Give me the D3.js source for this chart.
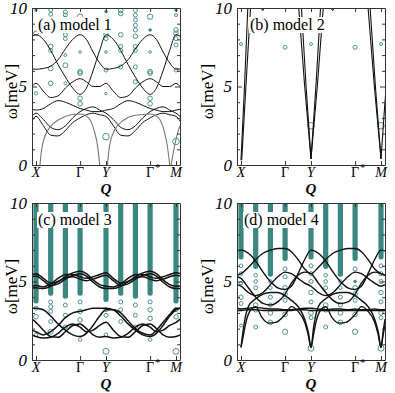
<!DOCTYPE html>
<html>
<head>
<meta charset="utf-8">
<script src="https://cdn.jsdelivr.net/npm/d3@7"></script>
<style>
  body { margin: 0; background: #fff; }
</style>
</head>
<body>
<div id="chart"></div>
<script>
// Q path positions: X -> Gamma -> Y -> Gamma* -> M
var qTicks = [0, 0.63, 1, 1.63, 2]
var qTickLabels = ['X', 'Γ', 'Y', 'Γ', 'M']
var qTickItalic = [true, false, true, false, true]
var qTickStar = [false, false, false, true, false]
var wTicks = [0, 1, 2, 3, 4, 5, 6, 7, 8, 9, 10]

// common Q grid for the dispersion branches
var qGrid = [-0.057, 0, 0.105, 0.21, 0.315, 0.42, 0.525, 0.63, 0.72, 0.815, 0.91, 1, 1.105, 1.21, 1.315, 1.42, 1.525, 1.63, 1.72, 1.815, 1.91, 2, 2.057]

// (a) model 1
var aBands = [
  [6.12, 6.1, 6.15, 6.3, 6.7, 7.4, 8.0, 8.3, 8.0, 7.2, 6.5, 6.1, 6.15, 6.3, 6.7, 7.4, 8.0, 8.3, 8.0, 7.2, 6.5, 6.1, 6.12],
  [8.2, 8.3, 8.0, 7.3, 6.4, 5.6, 4.9, 4.5, 4.9, 6.0, 7.3, 8.3, 8.0, 7.3, 6.4, 5.6, 4.9, 4.5, 4.9, 6.0, 7.3, 8.3, 8.2],
  [5.0, 5.2, 4.7, 4.3, 4.4, 4.9, 5.3, 5.5, 5.3, 5.0, 5.0, 5.2, 4.7, 4.3, 4.4, 4.9, 5.3, 5.5, 5.3, 5.0, 5.0, 5.2, 5.0],
  [3.55, 3.5, 3.6, 3.9, 4.1, 4.0, 3.8, 3.6, 3.5, 3.4, 3.4, 3.5, 3.6, 3.9, 4.1, 4.0, 3.8, 3.6, 3.5, 3.4, 3.4, 3.5, 3.55],
  [2.8, 3.1, 2.5, 1.9, 1.85, 2.2, 2.7, 3.0, 3.2, 3.3, 3.2, 3.1, 2.5, 1.9, 1.85, 2.2, 2.7, 3.0, 3.2, 3.3, 3.2, 3.1, 2.8],
  [3.1, 3.3, 2.9, 2.4, 2.25, 2.5, 3.0, 3.4, 3.6, 3.7, 3.5, 3.3, 2.9, 2.4, 2.25, 2.5, 3.0, 3.4, 3.6, 3.7, 3.5, 3.3, 3.1]
]
// gapless branches of (a), [q, w] pairs
var aArches = [
  [[0.057, 0], [0.075, 0.8], [0.11, 1.6], [0.2, 2.4], [0.35, 2.95], [0.5, 3.2], [0.63, 3.25], [0.75, 3.0], [0.83, 2.2], [0.88, 1.2], [0.91, 0]],
  [[1.02, 0], [1.05, 1.2], [1.12, 2.2], [1.25, 2.85], [1.4, 3.15], [1.63, 3.25], [1.75, 3.0], [1.84, 2.0], [1.88, 1.1], [1.91, 0]],
  [[1.93, 0], [1.97, 1.0], [2.02, 2.0], [2.057, 2.5]]
]
// [q, w, radius, filled]
var aCircles = [
  [0, 9.87, 1.2, 1], [0, 8.39, 2.3, 0], [0, 4.56, 1.6, 0],
  [0.21, 9.87, 2, 0], [0.21, 9.6, 2, 0], [0.21, 7.55, 2.3, 0], [0.21, 7.3, 2, 0], [0.21, 6.15, 2.3, 0], [0.21, 5.2, 2.3, 0],
  [0.42, 9.75, 2, 0], [0.42, 9.55, 2, 0], [0.42, 9.35, 2, 0], [0.42, 8.3, 2, 0], [0.42, 8.05, 2, 0], [0.42, 7.0, 1.5, 0], [0.42, 6.35, 2.5, 0], [0.42, 5.2, 1.5, 0],
  [0.63, 9.45, 2.7, 0], [0.63, 7.2, 1.3, 0], [0.63, 5.95, 2.3, 0], [0.63, 5.85, 2.3, 0], [0.63, 4.25, 2.3, 0], [0.63, 3.9, 2.3, 0],
  [1, 9.77, 1.3, 1], [1, 8.6, 2.3, 0], [1, 8.3, 2.3, 0], [1, 8.05, 2, 0], [1, 7.2, 1.3, 0], [1, 6.05, 2, 0], [1, 4.55, 1.3, 0], [1, 1.8, 3.3, 0],
  [1.21, 9.85, 2.3, 0], [1.21, 9.65, 2.3, 0], [1.21, 8.3, 2.3, 0], [1.21, 7.55, 2, 0], [1.21, 7.3, 2, 0], [1.21, 6.25, 2, 0],
  [1.42, 9.85, 2, 0], [1.42, 9.55, 2, 0], [1.42, 9.25, 2, 0], [1.42, 8.9, 2, 0], [1.42, 8.6, 2, 0], [1.42, 8.2, 2.3, 0], [1.42, 7.55, 2, 0], [1.42, 7.3, 2, 0], [1.42, 6.25, 2, 0], [1.42, 5.3, 2, 0],
  [1.63, 9.45, 2.7, 0], [1.63, 8.6, 1.3, 1], [1.63, 7.2, 1.3, 0], [1.63, 5.95, 2.3, 0], [1.63, 5.85, 2.3, 0], [1.63, 4.25, 2.3, 0], [1.63, 3.9, 2.3, 0],
  [2, 9.87, 1.3, 1], [2, 9.55, 1.5, 0], [2, 8.6, 2.3, 0], [2, 8.4, 2.3, 0], [2, 8.05, 2, 0], [2, 7.65, 2, 0], [2, 6.05, 2, 0], [2, 1.5, 3.3, 0]
]

// (b) model 2
var bBranches = [
  [[0.0, 0.3], [0.05, 5], [0.1, 10.3]],
  [[0.01, 0.3], [0.07, 5], [0.14, 10.3]],
  [[0.82, 10.3], [0.91, 5], [1.0, 0.4]],
  [[0.86, 10.3], [0.93, 5], [1.0, 0.4]],
  [[1.0, 0.4], [1.07, 5], [1.14, 10.3]],
  [[1.0, 0.4], [1.09, 5], [1.18, 10.3]],
  [[1.81, 10.3], [1.905, 5], [2.0, 0.4]],
  [[1.84, 10.3], [1.92, 5], [2.0, 0.4]],
  [[2.0, 0.4], [2.05, 3.6], [2.1, 6.5]],
  [[0.27, 10.3], [0.31, 9.85], [0.35, 10.3]],
  [[1.27, 10.3], [1.31, 9.85], [1.35, 10.3]]
]
var bCircles = [
  [0, 7.7, 1.5, 0], [0.63, 7.5, 2, 0], [1, 7.7, 1.5, 0], [1.63, 7.5, 2, 0], [2, 7.7, 1.5, 0],
  [1, 2.5, 3.3, 0], [2, 2.5, 3.3, 0]
]

// (c) model 3
var cBands = [
  [5.45, 5.5, 5.2, 4.9, 5.0, 5.3, 5.55, 5.65, 5.5, 5.1, 4.8, 4.7, 4.65, 4.85, 5.2, 5.45, 5.45, 5.3, 5.2, 5.3, 5.45, 5.55, 5.5],
  [5.3, 5.35, 5.05, 4.75, 4.85, 5.15, 5.4, 5.5, 5.35, 4.95, 4.65, 4.55, 4.55, 4.7, 5.0, 5.25, 5.3, 5.15, 5.05, 5.15, 5.3, 5.4, 5.35],
  [4.7, 4.75, 4.65, 4.85, 5.2, 5.45, 5.45, 5.3, 5.2, 5.3, 5.45, 5.55, 5.2, 4.9, 5.0, 5.3, 5.55, 5.65, 5.5, 5.1, 4.8, 4.7, 4.72],
  [4.58, 4.6, 4.55, 4.7, 5.0, 5.25, 5.3, 5.15, 5.05, 5.15, 5.3, 5.4, 5.05, 4.75, 4.85, 5.15, 5.4, 5.5, 5.35, 4.95, 4.65, 4.55, 4.56],
  [2.6, 2.4, 1.9, 1.5, 1.45, 1.8, 2.2, 2.3, 2.0, 1.6, 1.45, 1.5, 1.4, 1.45, 1.7, 2.1, 2.3, 2.1, 1.8, 1.9, 2.2, 2.4, 2.6],
  [1.6, 1.5, 1.4, 1.45, 1.7, 2.1, 2.3, 2.1, 1.8, 1.9, 2.2, 2.4, 1.9, 1.5, 1.45, 1.8, 2.2, 2.3, 2.0, 1.6, 1.45, 1.5, 1.6],
  [1.9, 1.8, 1.6, 1.8, 2.2, 2.7, 3.0, 3.1, 3.2, 3.3, 3.3, 3.3, 3.2, 2.8, 2.3, 1.9, 1.6, 1.5, 1.7, 2.2, 2.8, 3.2, 3.3],
  [3.3, 3.3, 3.2, 2.8, 2.3, 1.9, 1.6, 1.5, 1.7, 2.2, 2.8, 3.2, 3.2, 3.0, 2.5, 2.0, 1.7, 1.6, 1.9, 2.4, 2.9, 3.3, 3.3]
]
// dense columns of intensity circles: [q, lowest w, highest w]
var cColumns = [[0, 3.6, 10], [0.21, 4.1, 10], [0.42, 3.9, 10], [0.63, 4.1, 10], [1, 3.7, 10], [1.21, 4.1, 10], [1.42, 3.9, 10], [1.63, 4.1, 10], [2, 3.6, 10]]
var cCircles = [
  [0, 3.3, 2, 0], [0, 2.75, 2.3, 0], [0, 1.6, 1.8, 0],
  [0.21, 3.7, 2, 0], [0.21, 3.4, 2, 0], [0.21, 3.1, 2, 0], [0.21, 2.45, 2, 0], [0.21, 1.8, 2.5, 0],
  [0.42, 3.5, 2, 0], [0.42, 2.85, 2, 0], [0.42, 2.1, 2, 0],
  [0.63, 3.7, 2, 0], [0.63, 3.1, 2.3, 0], [0.63, 2.55, 2.3, 0], [0.63, 1.3, 1.8, 0],
  [1, 3.2, 2, 0], [1, 2.85, 2, 0], [1, 1.6, 1.8, 0], [1, 0.55, 3, 0],
  [1.21, 3.7, 2, 0], [1.21, 3.2, 2, 0], [1.21, 2.45, 2, 0],
  [1.42, 3.5, 2, 0], [1.42, 2.85, 2, 0], [1.42, 2.1, 2, 0],
  [1.63, 3.7, 2, 0], [1.63, 3.2, 2.3, 0], [1.63, 2.65, 2.3, 0], [1.63, 1.3, 1.8, 0],
  [2, 3.2, 2, 0], [2, 2.75, 2.3, 0], [2, 0.55, 3, 0]
]

// (d) model 4
var dBands = [
  [5.4, 5.5, 5.9, 6.4, 6.8, 7.0, 7.1, 7.1, 6.9, 6.4, 5.8, 5.5, 5.9, 6.4, 6.8, 7.0, 7.1, 7.1, 6.9, 6.4, 5.8, 5.5, 5.4],
  [6.95, 7.0, 6.8, 6.3, 5.6, 5.0, 4.6, 4.5, 4.7, 5.5, 6.4, 7.0, 6.8, 6.3, 5.6, 5.0, 4.6, 4.5, 4.7, 5.5, 6.4, 7.0, 6.95],
  [5.3, 5.2, 4.6, 4.0, 3.6, 3.5, 3.7, 4.2, 4.9, 5.4, 5.6, 5.5, 4.9, 4.3, 3.8, 3.6, 3.7, 4.2, 4.9, 5.4, 5.6, 5.5, 5.4],
  [4.8, 4.7, 4.3, 4.1, 4.3, 4.8, 5.3, 5.6, 5.5, 5.2, 4.9, 4.7, 4.3, 4.1, 4.3, 4.8, 5.3, 5.6, 5.5, 5.2, 4.9, 4.7, 4.8],
  [3.3, 3.25, 3.3, 3.35, 3.3, 3.25, 3.25, 3.2, 3.2, 3.25, 3.3, 3.3, 3.25, 3.2, 3.25, 3.25, 3.2, 3.25, 3.2, 3.2, 3.25, 3.2, 3.2],
  [3.15, 3.15, 3.2, 3.2, 3.15, 3.15, 3.15, 3.15, 3.15, 3.2, 3.2, 3.15, 3.15, 3.15, 3.15, 3.15, 3.15, 3.15, 3.15, 3.15, 3.15, 3.15, 3.15]
]
// soft branches of (d) with sharp minima at X, Y, M: [q, w] pairs
var dAcoustic = [
  [[0, 0.8], [0.035, 2.0], [0.07, 2.9], [0.105, 3.4], [0.21, 3.9], [0.315, 4.2], [0.42, 4.3], [0.525, 4.3], [0.63, 4.1], [0.72, 3.8], [0.815, 3.4], [0.91, 2.6], [0.965, 1.7], [1, 0.8],
   [1.035, 2.0], [1.07, 2.9], [1.105, 3.4], [1.21, 3.9], [1.315, 4.2], [1.42, 4.3], [1.525, 4.3], [1.63, 4.1], [1.72, 3.8], [1.815, 3.4], [1.91, 2.6], [1.965, 1.7], [2, 0.8], [2.03, 1.8], [2.057, 2.6]],
  [[0, 0.8], [0.035, 1.6], [0.07, 2.4], [0.14, 3.2], [0.21, 3.4], [0.3, 2.7], [0.4, 2.35], [0.5, 2.4], [0.63, 2.9], [0.72, 3.4], [0.815, 3.1], [0.91, 2.4], [0.96, 1.6], [1, 0.8],
   [1.035, 1.6], [1.07, 2.4], [1.14, 3.2], [1.21, 3.4], [1.3, 2.7], [1.4, 2.35], [1.5, 2.4], [1.63, 2.9], [1.72, 3.4], [1.815, 3.1], [1.91, 2.4], [1.96, 1.6], [2, 0.8], [2.03, 1.6], [2.057, 2.2]]
]
var dColumns = [[0, 6.4, 10], [0.21, 5.8, 10], [0.42, 5.3, 10], [0.63, 6.3, 10], [1, 6.4, 10], [1.21, 5.8, 10], [1.42, 5.3, 10], [1.63, 6.3, 10], [2, 6.4, 10]]
var dCircles = [
  [0, 6.0, 1.8, 0], [0, 5.5, 1.8, 0], [0, 4.9, 1.8, 0], [0, 4.0, 2.2, 0], [0, 3.6, 2, 0], [0, 2.2, 1.5, 0],
  [0.21, 5.4, 1.8, 0], [0.21, 5.0, 1.8, 0], [0.21, 4.6, 2, 0], [0.21, 3.5, 2.3, 0], [0.21, 3.2, 2.3, 0], [0.21, 2.1, 2, 0],
  [0.42, 5.0, 1.8, 0], [0.42, 4.6, 1.8, 0], [0.42, 4.0, 2, 0], [0.42, 3.5, 2, 0], [0.42, 3.0, 2.3, 0], [0.42, 2.4, 2.3, 0],
  [0.63, 5.8, 2, 0], [0.63, 5.3, 2, 0], [0.63, 4.6, 2.3, 0], [0.63, 4.2, 2.3, 0], [0.63, 3.8, 2, 0], [0.63, 2.9, 2.3, 0], [0.63, 1.8, 2.6, 0],
  [1, 6.0, 2, 0], [1, 5.5, 2, 0], [1, 5.0, 2, 0], [1, 4.3, 2.2, 0], [1, 3.7, 2, 0], [1, 3.0, 2.3, 0], [1, 2.7, 2, 0], [1, 0.75, 3, 0],
  [1.21, 5.4, 1.8, 0], [1.21, 5.0, 1.8, 0], [1.21, 4.6, 2, 0], [1.21, 3.5, 2.3, 0], [1.21, 3.2, 2.3, 0], [1.21, 2.1, 2, 0],
  [1.42, 5.0, 1.8, 0], [1.42, 4.6, 1.8, 0], [1.42, 4.0, 2, 0], [1.42, 3.5, 2, 0], [1.42, 3.0, 2.3, 0], [1.42, 2.4, 2.3, 0],
  [1.63, 5.8, 2, 0], [1.63, 5.0, 1.3, 1], [1.63, 4.6, 2.3, 0], [1.63, 4.2, 2.3, 0], [1.63, 3.8, 2, 0], [1.63, 2.9, 2.3, 0], [1.63, 1.8, 2.6, 0],
  [2, 6.0, 2, 0], [2, 5.5, 2, 0], [2, 5.0, 2, 0], [2, 4.3, 2.2, 0], [2, 3.7, 2, 0], [2, 3.0, 2.3, 0], [2, 2.7, 2, 0], [2, 0.75, 3, 0]
]

var settings = {
  teal: '#3a8782',
  lineColor: '#111',
  archColor: '#777',
  axisColor: '#333',
  font: "'Liberation Serif', 'Times New Roman', serif"
}

var panels = [
  {left: 32, top: 8, label: '(a) model 1', labelDx: 6, ylabDx: 21, bands: aBands, branches: aArches, branchColor: settings.archColor, columns: [], circles: aCircles, width: 1},
  {left: 237, top: 8, label: '(b) model 2', labelDx: 13, ylabDx: 30, bands: [], branches: bBranches, branchColor: settings.lineColor, columns: [], circles: bCircles, width: 1.1},
  {left: 32, top: 203, label: '(c) model 3', labelDx: 6, ylabDx: 21, bands: cBands, branches: [], columns: cColumns, circles: cCircles, width: 1.5},
  {left: 237, top: 203, label: '(d) model 4', labelDx: 7, ylabDx: 30, bands: dBands, branches: dAcoustic, branchColor: settings.lineColor, columns: dColumns, circles: dCircles, width: 1.4}
]

var pw = 148, ph = 157

var svg = d3.select('#chart').append('svg')
  .attr('width', 395)
  .attr('height', 393)
  .attr('font-family', settings.font)

var x = d3.scaleLinear().domain([-0.057, 2.057]).range([0, pw])
var y = d3.scaleLinear().domain([0, 10]).range([ph, 0])

var line = d3.line()
  .x(function(d){ return x(d[0]) })
  .y(function(d){ return y(d[1]) })
  .curve(d3.curveMonotoneX)

panels.forEach(function(p, pi){
  var g = svg.append('g').attr('transform', 'translate(' + p.left + ',' + p.top + ')')

  g.append('clipPath').attr('id', 'clip' + pi)
    .append('rect').attr('width', pw).attr('height', ph)

  var plot = g.append('g').attr('clip-path', 'url(#clip' + pi + ')')

  // dense intensity columns
  plot.selectAll('.col')
    .data(p.columns)
    .enter().append('rect')
      .attr('x', function(d){ return x(d[0]) - 2.6 })
      .attr('y', function(d){ return y(d[2]) - 3 })
      .attr('width', 5.2)
      .attr('height', function(d){ return y(d[1]) - y(d[2]) + 3 })
      .attr('rx', 2.5)
      .attr('fill', settings.teal)

  // intensity circles
  plot.selectAll('.dot')
    .data(p.circles)
    .enter().append('circle')
      .attr('cx', function(d){ return x(d[0]) })
      .attr('cy', function(d){ return y(d[1]) })
      .attr('r', function(d){ return d[2] })
      .attr('fill', function(d){ return d[3] ? settings.teal : 'none' })
      .attr('stroke', settings.teal)
      .attr('stroke-width', 0.9)

  // dispersion branches on the common grid
  plot.selectAll('.band')
    .data(p.bands)
    .enter().append('path')
      .attr('d', function(d){ return line(qGrid.map(function(q, i){ return [q, d[i]] })) })
      .attr('fill', 'none')
      .attr('stroke', settings.lineColor)
      .attr('stroke-width', p.width)

  plot.selectAll('.branch')
    .data(p.branches)
    .enter().append('path')
      .attr('d', line)
      .attr('fill', 'none')
      .attr('stroke', p.branchColor)
      .attr('stroke-width', pi === 3 ? p.width : 1.1)

  // panel title sits on a white box
  var title = g.append('text')
    .attr('x', p.labelDx)
    .attr('y', 22)
    .attr('font-family', settings.font)
    .attr('font-size', '16px')
    .text(p.label)
  var bb = title.node().getBBox()
  g.insert('rect', 'text')
    .attr('x', bb.x - 1)
    .attr('y', bb.y + 1)
    .attr('width', bb.width + 2)
    .attr('height', bb.height - 2)
    .attr('fill', '#fff')

  // axes, ticks pointing inward
  var left = g.append('g')
    .call(d3.axisLeft(y).tickValues(wTicks).tickSizeInner(-3).tickSizeOuter(0).tickPadding(5)
      .tickFormat(function(d){ return d % 5 === 0 ? d : '' }))
  left.selectAll('.tick line').attr('x2', function(d){ return d % 5 === 0 ? 5 : 3 })

  var right = g.append('g').attr('transform', 'translate(' + pw + ',0)')
    .call(d3.axisRight(y).tickValues(wTicks).tickSizeInner(-3).tickSizeOuter(0).tickFormat(''))
  right.selectAll('.tick line').attr('x2', function(d){ return d % 5 === 0 ? -5 : -3 })

  g.append('g').attr('transform', 'translate(0,' + ph + ')')
    .call(d3.axisBottom(x).tickValues(qTicks).tickSizeInner(-4).tickSizeOuter(0).tickFormat(''))

  g.append('g')
    .call(d3.axisTop(x).tickValues(qTicks).tickSizeInner(-4).tickSizeOuter(0).tickFormat(''))

  g.selectAll('.domain, .tick line').attr('stroke', settings.axisColor).attr('stroke-width', 1)

  left.selectAll('.tick text')
    .attr('font-family', settings.font)
    .attr('font-style', 'italic')
    .attr('font-size', '17px')
    .attr('fill', '#000')

  // Q tick labels
  g.selectAll('.qlab')
    .data(qTicks)
    .enter().append('text')
      .attr('x', function(d){ return x(d) })
      .attr('y', ph + 12)
      .attr('text-anchor', 'middle')
      .attr('font-family', settings.font)
      .attr('font-size', '14px')
      .attr('font-style', function(d, i){ return qTickItalic[i] ? 'italic' : 'normal' })
      .text(function(d, i){ return qTickLabels[i] })

  g.selectAll('.qstar')
    .data(qTicks.filter(function(d, i){ return qTickStar[i] }))
    .enter().append('text')
      .attr('x', function(d){ return x(d) + 5 })
      .attr('y', ph + 6)
      .attr('font-family', settings.font)
      .attr('font-size', '11px')
      .text('*')

  // Axes titles
  g.append('text')
    .attr('x', pw / 2)
    .attr('y', ph + 28.5)
    .attr('text-anchor', 'middle')
    .attr('font-family', settings.font)
    .attr('font-size', '15px')
    .attr('font-style', 'italic')
    .attr('font-weight', 'bold')
    .text('Q')

  g.append('text')
    .attr('transform', 'translate(' + (-p.ylabDx) + ',' + (ph / 2 + 5) + ') rotate(-90)')
    .attr('text-anchor', 'middle')
    .attr('dominant-baseline', 'central')
    .attr('font-family', settings.font)
    .attr('font-size', '17px')
    .text('ω[meV]')
})
</script>
</body>
</html>
